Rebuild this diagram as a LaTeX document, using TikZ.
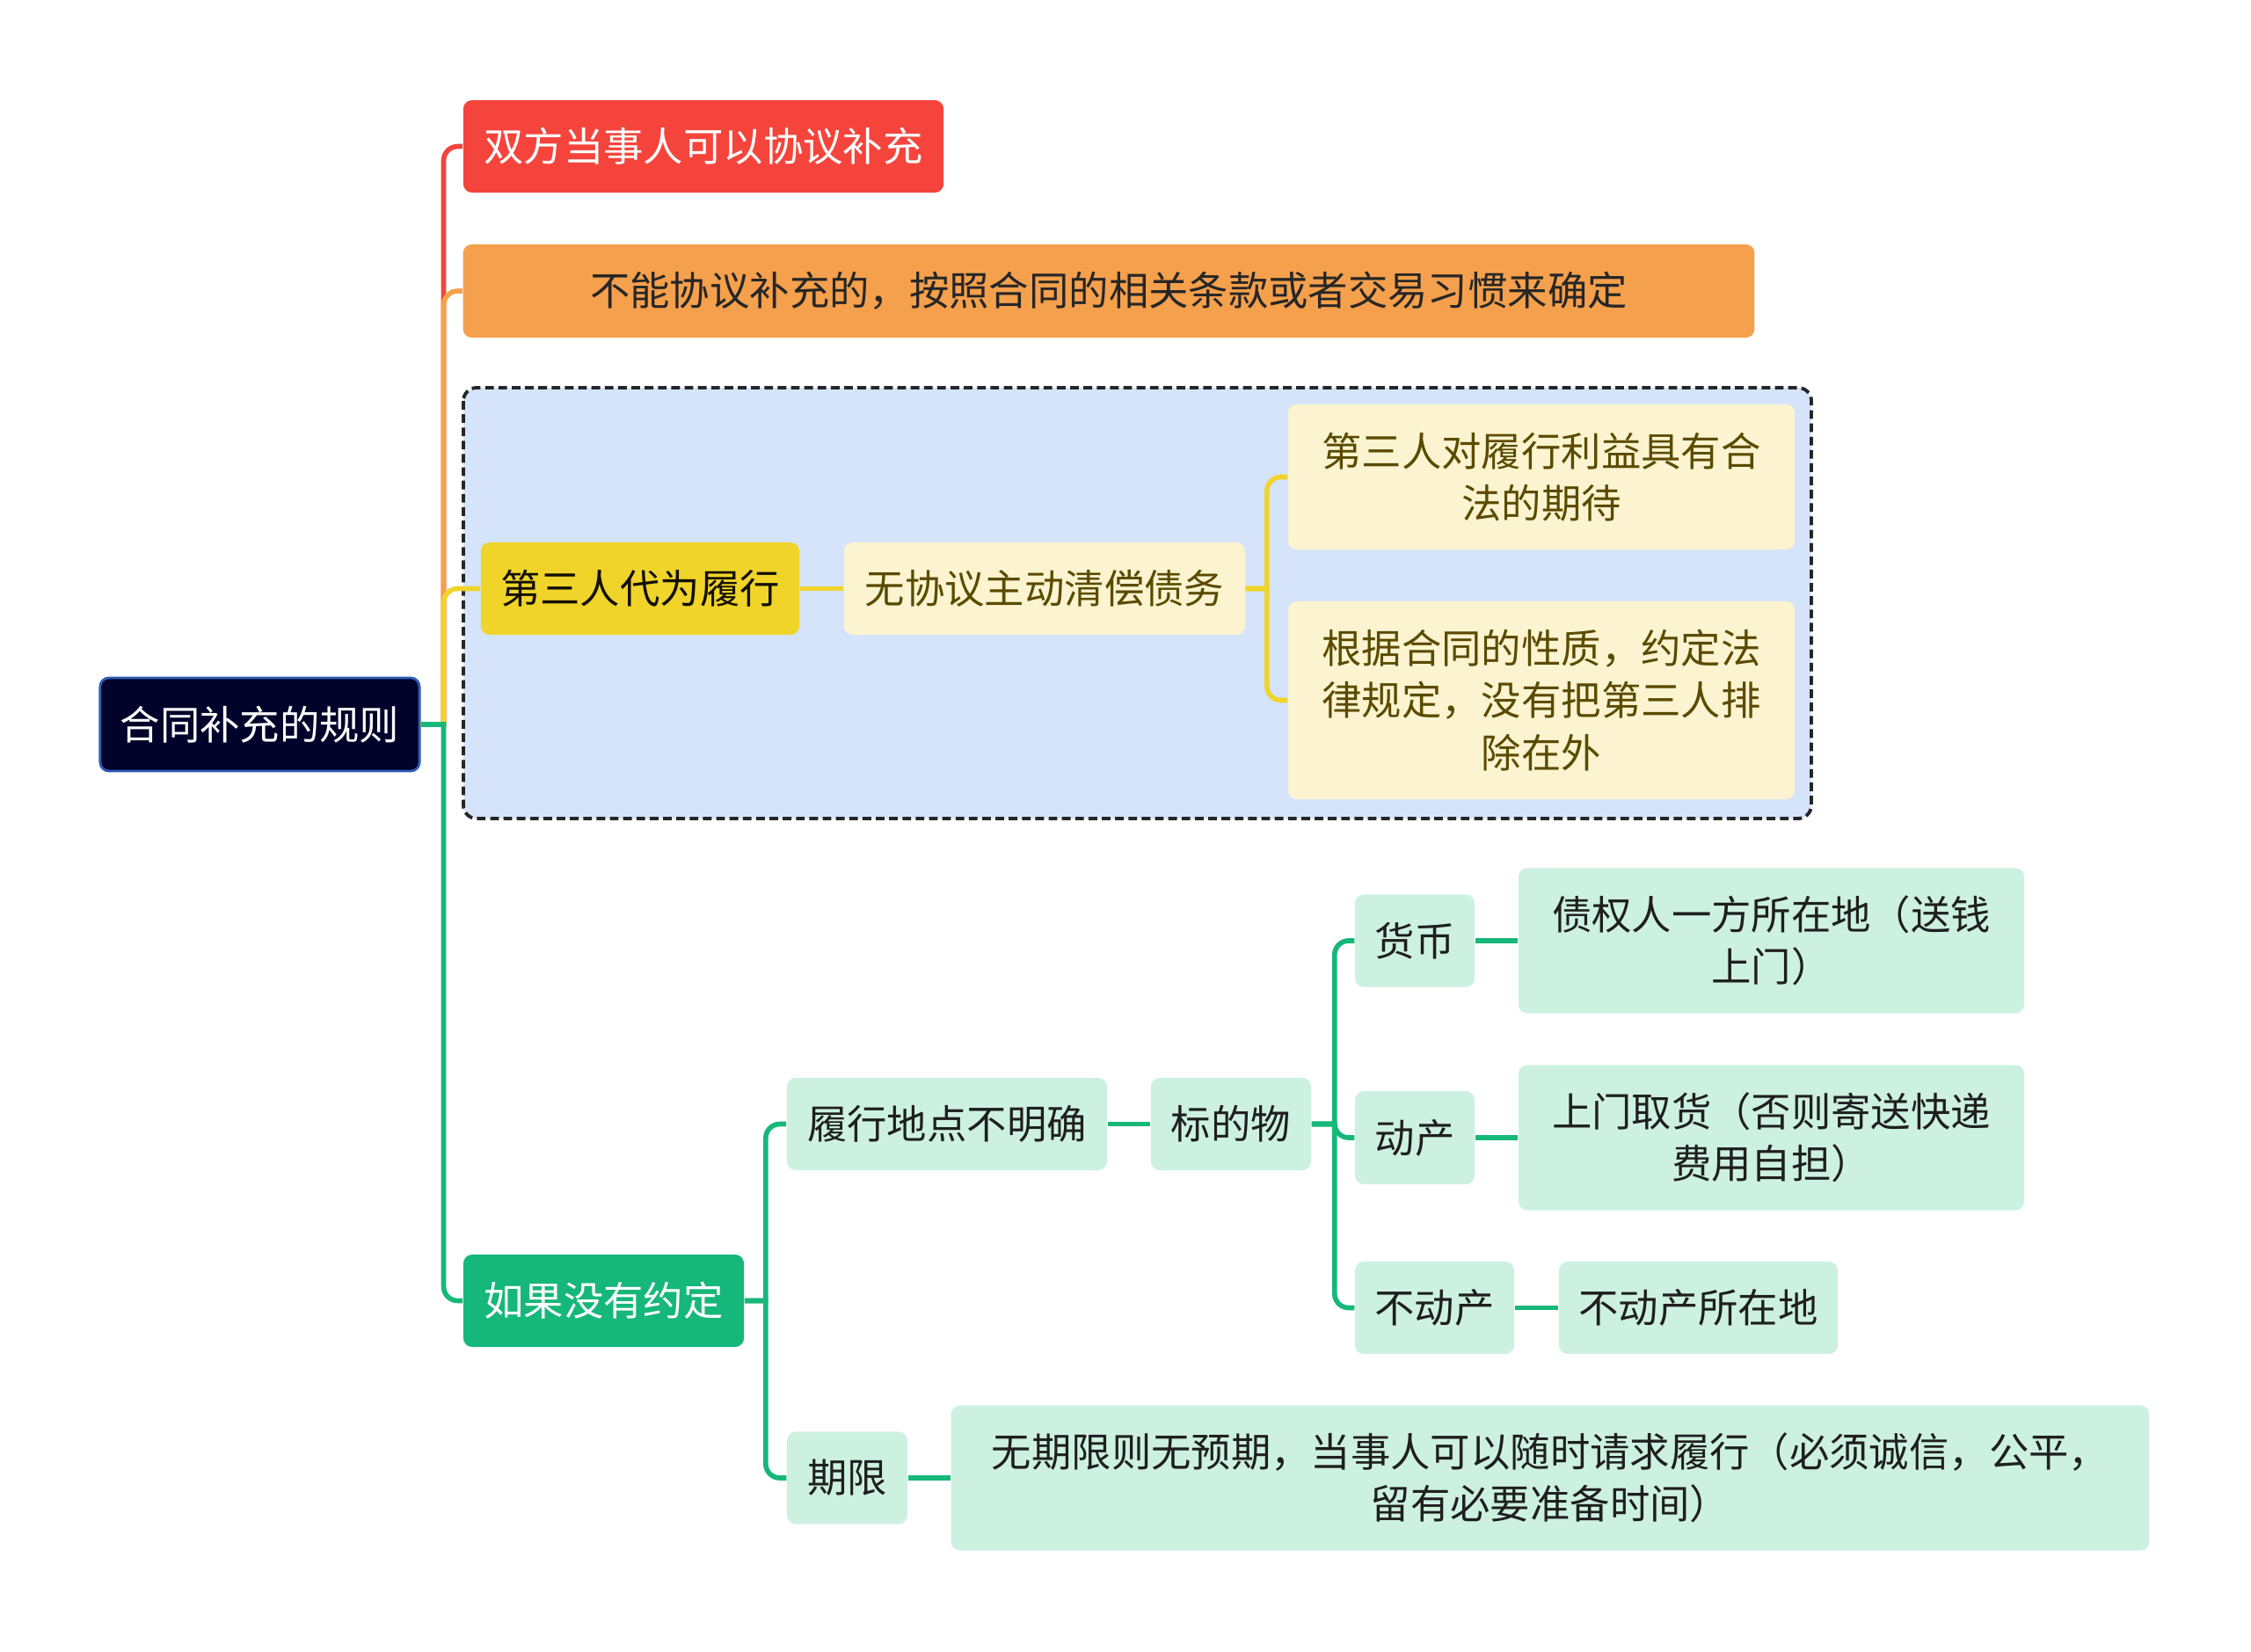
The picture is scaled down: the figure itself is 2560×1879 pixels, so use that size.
\documentclass[tikz,border=0pt]{standalone}
\usepackage{fontspec}
\newfontfamily\cjk{Noto Sans CJK SC}

\definecolor{mapred}{HTML}{F5443C}
\definecolor{maporange}{HTML}{F5A04C}
\definecolor{mapyellow}{HTML}{F0D42A}
\definecolor{mapcream}{HTML}{FCF4D0}
\definecolor{mapgreen}{HTML}{16B77B}
\definecolor{mapmint}{HTML}{CDF1E1}
\definecolor{mapblue}{HTML}{D5E4FB}
\definecolor{mapnavy}{HTML}{01032A}
\definecolor{mapborder}{HTML}{2E5CB8}
\definecolor{mapolive}{HTML}{5A4B00}

\tikzset{
  topic/.style={rounded corners=0.1cm, inner sep=0pt, align=center,
    font=\cjk\fontsize{12.9pt}{16.8pt}\selectfont},
  roottopic/.style={topic, fill=mapnavy, draw=mapborder, line width=0.8pt, text=white},
  redtopic/.style={topic, fill=mapred, text=white},
  orangetopic/.style={topic, fill=maporange, text=black!85},
  yellowtopic/.style={topic, fill=mapyellow, text=black!80!mapolive},
  creamtopic/.style={topic, fill=mapcream, text=mapolive},
  greentopic/.style={topic, fill=mapgreen, text=white},
  minttopic/.style={topic, fill=mapmint, text=black!88},
  branch/.style={line width=1.6pt}
}

\begin{document}
\begin{tikzpicture}[x=0.01cm, y=-0.01cm]

\useasboundingbox (0,0) rectangle (2560,1879);

% Dashed frame round the third-party branch
\draw[fill=mapblue, draw=black!85, line width=1.1pt, dash pattern=on 2.8pt off 1.5pt, rounded corners=0.15cm]
    (527,441) rectangle (2060,931);

% Root
\node[roottopic, minimum width=3.63cm, minimum height=1.06cm] (root) at (295.5,824) {合同补充的规则};

% First level
\node[redtopic, minimum width=5.46cm, minimum height=1.05cm] (agree) at (800,166.5) {双方当事人可以协议补充};
\node[orangetopic, minimum width=14.68cm, minimum height=1.06cm] (custom) at (1261,331) {不能协议补充的，按照合同的相关条款或者交易习惯来确定};
\node[yellowtopic, minimum width=3.62cm, minimum height=1.05cm] (third) at (728,669.5) {第三人代为履行};
\node[greentopic, minimum width=3.19cm, minimum height=1.05cm] (none) at (686.5,1479.5) {如果没有约定};

% Third party
\node[creamtopic, minimum width=4.56cm, minimum height=1.05cm] (repay) at (1188,669.5) {无协议主动清偿债务};
\node[creamtopic, minimum width=5.76cm, minimum height=1.65cm] (expect) at (1753,542.5) {第三人对履行利益具有合\\法的期待};
\node[creamtopic, minimum width=5.76cm, minimum height=2.25cm] (nature) at (1753,796.5) {根据合同的性质，约定法\\律规定，没有把第三人排\\除在外};

% No agreement
\node[minttopic, minimum width=3.64cm, minimum height=1.05cm] (place) at (1077,1278.5) {履行地点不明确};
\node[minttopic, minimum width=1.82cm, minimum height=1.05cm] (object) at (1400,1278.5) {标的物};
\node[minttopic, minimum width=1.36cm, minimum height=1.05cm] (money) at (1609,1070) {货币};
\node[minttopic, minimum width=5.75cm, minimum height=1.65cm] (moneyplace) at (2014.5,1070) {债权人一方所在地（送钱\\上门）};
\node[minttopic, minimum width=1.36cm, minimum height=1.06cm] (movable) at (1609,1294) {动产};
\node[minttopic, minimum width=5.75cm, minimum height=1.65cm] (movableplace) at (2014.5,1294) {上门取货（否则寄送快递\\费用自担）};
\node[minttopic, minimum width=1.81cm, minimum height=1.05cm] (estate) at (1631.5,1487.5) {不动产};
\node[minttopic, minimum width=3.17cm, minimum height=1.05cm] (estateplace) at (1931.5,1487.5) {不动产所在地};
\node[minttopic, minimum width=1.37cm, minimum height=1.05cm] (term) at (963.5,1681) {期限};
\node[minttopic, minimum width=13.62cm, minimum height=1.65cm] (termtext) at (1763,1681) {无期限则无预期，当事人可以随时请求履行（必须诚信，公平，\\留有必要准备时间）};

% Fork points
\coordinate (rootfork) at ([xshift=0.26cm]root.east);
\coordinate (repayfork) at ([xshift=0.24cm]repay.east);
\coordinate (nonefork) at ([xshift=0.24cm]none.east);
\coordinate (objectfork) at ([xshift=0.26cm]object.east);

% Branches from the root
\draw[branch, mapred] (root.east) -- (rootfork) [rounded corners=0.16cm] |- (agree.west);
\draw[branch, maporange] (root.east) -- (rootfork) [rounded corners=0.16cm] |- (custom.west);
\draw[branch, mapyellow] (root.east) -- (rootfork) [rounded corners=0.16cm] |- (third.west);
\draw[branch, mapgreen] (root.east) -- (rootfork) [rounded corners=0.16cm] |- (none.west);

% Third party branches
\draw[branch, mapyellow] (third.east) -- (repay.west);
\draw[branch, mapyellow] (repay.east) -- (repayfork) [rounded corners=0.16cm] |- (expect.west);
\draw[branch, mapyellow] (repay.east) -- (repayfork) [rounded corners=0.16cm] |- (nature.west);

% No agreement branches
\draw[branch, mapgreen] (none.east) -- (nonefork) [rounded corners=0.16cm] |- (place.west);
\draw[branch, mapgreen] (none.east) -- (nonefork) [rounded corners=0.16cm] |- (term.west);
\draw[branch, mapgreen] (place.east) -- (object.west);
\draw[branch, mapgreen] (object.east) -- (objectfork) [rounded corners=0.16cm] |- (money.west);
\draw[branch, mapgreen] (object.east) -- (objectfork) [rounded corners=0.16cm] |- (movable.west);
\draw[branch, mapgreen] (object.east) -- (objectfork) [rounded corners=0.16cm] |- (estate.west);
\draw[branch, mapgreen] (money.east) -- (moneyplace.west);
\draw[branch, mapgreen] (movable.east) -- (movableplace.west);
\draw[branch, mapgreen] (estate.east) -- (estateplace.west);
\draw[branch, mapgreen] (term.east) -- (termtext.west);

\end{tikzpicture}
\end{document}
